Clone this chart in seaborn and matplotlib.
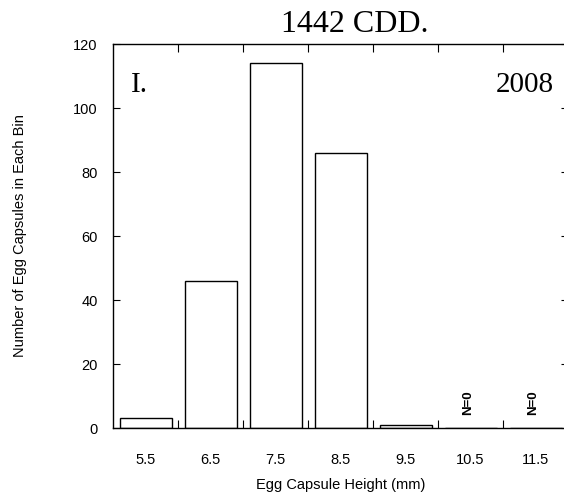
import matplotlib
matplotlib.use('Agg')
import matplotlib.pyplot as plt
import seaborn as sns
import pandas as pd

############################
# DATA
############################
bin_labels = ['5.5', '6.5', '7.5', '8.5', '9.5', '10.5', '11.5']
counts = [3, 46, 114, 86, 1, 0, 0]
empty_bins = ['10.5', '11.5']

df = pd.DataFrame({'Height': bin_labels, 'Count': counts})

############################
# PLOT
############################
sns.set_style('ticks')
plt.rcParams['font.family'] = ['Liberation Sans', 'DejaVu Sans']
plt.rcParams['text.color'] = 'black'
plt.rcParams['axes.labelcolor'] = 'black'
plt.rcParams['xtick.color'] = 'black'
plt.rcParams['ytick.color'] = 'black'
plt.rcParams['axes.edgecolor'] = 'black'
serif = ['Liberation Serif', 'DejaVu Serif']

fig = plt.figure(figsize=(5.64, 4.96), dpi=100)
ax = fig.add_axes([113 / 564, 68 / 496, 455 / 564, 384 / 496])

sns.barplot(data=df, x='Height', y='Count', order=bin_labels,
            color='white', edgecolor='black', linewidth=1.0,
            width=0.8, ax=ax)

ax.set_xlim(-0.5, 6.5)
ax.set_ylim(0, 120)
ax.set_yticks(range(0, 121, 20))

# ticks: labels at bin centres, marks at bin edges, all inward
ax.set_xticks(range(len(bin_labels)))
ax.set_xticklabels(bin_labels)
ax.set_xticks([i + 0.5 for i in range(len(bin_labels) - 1)], minor=True)
ax.tick_params(axis='x', which='major', length=0, pad=18, labelsize=10.5)
ax.tick_params(axis='x', which='minor', direction='in', length=6,
               top=True, bottom=True, width=0.8)
ax.tick_params(axis='y', which='major', direction='in', length=5,
               left=True, right=True, pad=11, labelsize=10.5, width=0.8)

for side in ['left', 'right', 'top', 'bottom']:
    ax.spines[side].set_visible(True)
    ax.spines[side].set_linewidth(1.0)

ax.set_xlabel('Egg Capsule Height (mm)', fontsize=10.5, labelpad=8)
ax.set_ylabel('Number of Egg Capsules in Each Bin', fontsize=10.5,
              labelpad=33)

for lab in empty_bins:
    ax.text(bin_labels.index(lab) - 0.04, 4, 'N=0', rotation=90,
            ha='center', va='bottom', fontsize=9.5, fontweight='bold')

ax.text(0.04, 0.875, 'I.', transform=ax.transAxes, fontsize=21,
        family=serif, ha='left', va='baseline')
ax.text(0.968, 0.875, '2008', transform=ax.transAxes, fontsize=21,
        family=serif, ha='right', va='baseline')
fig.text(355 / 564, 464 / 496, '1442 CDD.', fontsize=23, family=serif,
         ha='center', va='baseline')

fig.savefig('out.png', dpi=100)
